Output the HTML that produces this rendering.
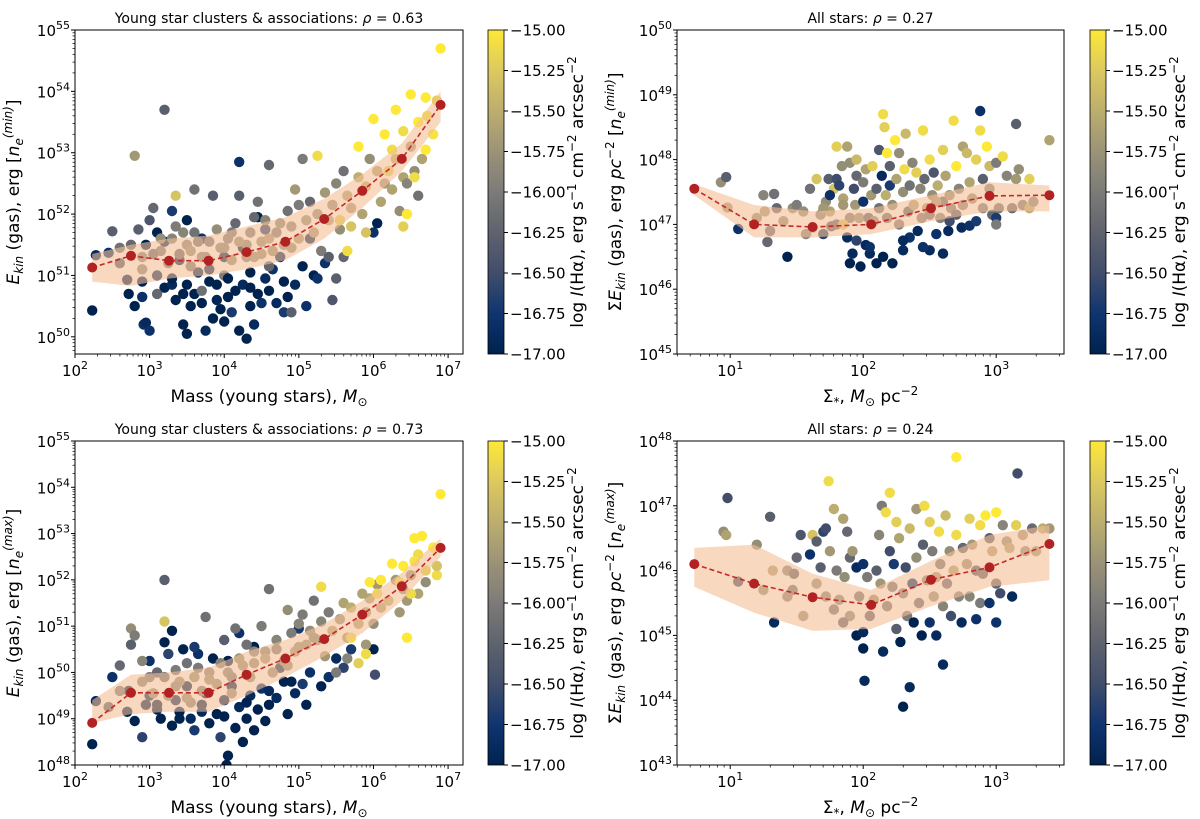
<!DOCTYPE html>
<html><head><meta charset="utf-8"><style>
html,body{margin:0;padding:0;background:#fff;}
svg{display:block;font-family:"DejaVu Sans","Liberation Sans",sans-serif;}
</style></head><body>
<svg id="fig" width="1200" height="819" viewBox="0 0 1200 819"></svg>
<script>
// ---------- DATA ----------
// Panel TL: log Mass, log Ekin (n_e min), log I(Halpha)
const tlX=[2.23,2.28,2.45,2.7,2.72,2.8,2.9,2.92,2.95,2.9,3.1,3.2,3.3,3.35,3.45,3.5,3.55,3.6,3.7,3.75,3.8,3.85,3.9,3.95,4.0,4.05,4.1,4.15,4.2,4.25,4.3,4.35,4.4,4.45,4.5,4.6,4.7,4.8,4.85,5.1,5.2,5.35,3.2,3.5,3.7,4.0,4.25,4.35,4.45,4.65,4.75,5.05,5.25,6.0,6.05,5.15,4.2,3.4,3.65,2.95,3.0,4.95,4.55,3.3,
2.5,2.6,2.8,2.75,2.85,3.0,3.05,3.2,3.15,3.3,3.4,3.5,3.6,3.7,3.8,3.85,3.95,4.05,4.1,4.15,4.2,4.3,4.35,4.4,4.45,4.5,4.55,4.6,4.65,4.7,4.8,4.85,4.9,4.95,5.0,5.05,5.1,5.15,5.2,5.25,5.3,5.35,5.4,5.45,5.5,5.55,5.6,5.65,5.7,5.8,5.85,5.9,5.95,6.05,6.1,6.15,6.25,6.35,6.4,6.5,6.55,6.6,6.65,6.3,6.45,3.6,3.35,2.9,3.55,4.0,4.6,5.4,5.5,5.45,5.6,3.1,3.7,4.9,
3.35,5.25,5.55,5.65,5.8,5.9,6.0,6.15,6.25,6.3,6.4,6.45,6.5,6.55,6.6,6.7,6.72,6.8,6.85,6.9,6.7,6.4,5.7,6.2,
2.6,2.9,3.05,3.15,3.25,3.45,3.55,3.65,3.75,3.9,4.0,4.1,4.2,4.3,4.4,4.5,4.6,4.75,4.9,5.0,3.3,3.5,3.8,4.05,4.35,4.55,4.8,3.1,3.45,3.9];
const tlY=[50.43,51.33,51.37,50.93,50.7,50.5,50.65,50.2,50.23,50.9,51.7,50.8,50.85,50.6,50.2,50.05,50.5,50.7,50.55,50.1,50.9,50.3,50.6,50.45,50.25,50.65,50.4,50.75,50.1,50.85,49.97,50.5,50.2,50.7,50.55,50.75,50.55,50.4,50.65,50.5,51.0,51.2,51.55,51.9,51.6,51.3,51.45,51.05,51.95,51.1,51.3,51.15,50.95,51.7,51.85,51.6,52.85,51.25,51.05,51.5,50.1,50.85,51.75,52.05,
51.72,51.2,52.95,51.5,51.75,51.9,52.1,53.7,51.4,51.6,51.35,51.5,51.7,51.3,51.55,52.3,51.45,51.6,51.25,51.85,52.3,51.5,51.7,51.3,52.2,51.55,51.9,52.8,51.4,51.7,51.5,52.05,51.8,52.4,51.6,52.9,51.9,52.2,51.7,52.0,51.4,52.35,51.9,52.15,52.5,51.75,52.7,52.3,52.1,52.6,52.0,52.45,52.9,52.7,52.2,52.5,52.4,52.05,52.6,53.1,52.7,52.3,52.9,52.9,52.5,52.4,51.8,51.1,51.15,51.0,51.15,51.3,50.95,50.6,51.3,50.7,50.75,50.4,
52.3,52.95,51.9,51.4,53.1,51.7,53.55,53.3,53.05,53.7,53.35,52.0,53.95,52.6,53.5,53.9,53.6,53.3,53.85,54.7,53.05,51.8,51.8,52.7,
51.45,51.3,51.35,51.6,51.2,51.7,51.4,51.55,51.3,51.75,51.45,51.7,51.55,51.3,51.95,51.35,51.6,51.85,51.45,52.15,50.95,50.85,51.1,50.95,50.8,50.95,50.9,51.0,50.7,50.85];
const tlC=[-17,-16.9,-16.8,-17,-17,-17,-16.8,-16.8,-16.9,-17,-17,-17,-16.9,-17,-17,-17,-17,-17,-17,-16.9,-17,-17,-16.95,-17,-17,-17,-16.7,-17,-17,-16.9,-17,-17,-16.9,-17,-16.8,-17,-16.9,-16.7,-17,-16.8,-17,-16.8,-16.9,-17,-16.8,-16.95,-17,-17,-17,-16.8,-16.9,-17,-16.8,-16.8,-17,-16.9,-16.8,-17,-16.9,-17,-16.8,-16.9,-16.7,-16.7,
-16.3,-16.4,-15.7,-16.2,-16.3,-16.4,-16.2,-16.3,-16.0,-15.9,-16.2,-15.9,-16.1,-15.9,-16.1,-16.3,-15.9,-16.0,-15.8,-16.2,-16.3,-15.9,-16.0,-15.8,-16.1,-15.8,-15.9,-16.2,-15.8,-16.0,-15.8,-16.1,-15.9,-15.7,-15.7,-16.0,-15.8,-16.2,-15.7,-15.8,-16.0,-15.7,-15.6,-15.8,-15.9,-15.8,-16.1,-15.6,-15.7,-15.5,-15.6,-15.5,-15.8,-15.6,-15.6,-15.7,-15.6,-15.8,-15.6,-15.7,-15.8,-16.1,-15.6,-15.5,-15.9,-16.1,-16.0,-15.9,-16.0,-16.0,-16.2,-16.3,-16.3,-16.4,-16.2,-16.2,-16.1,-16.3,
-15.3,-15.1,-15.2,-15.1,-15.0,-15.3,-15.0,-15.0,-15.1,-15.0,-15.1,-15.0,-15.0,-15.1,-15.0,-15.0,-15.1,-15.05,-15.2,-15.0,-15.0,-15.2,-15.3,-15.2,
-16.1,-15.9,-16.2,-15.8,-16.0,-15.9,-15.8,-16.1,-15.9,-15.8,-15.9,-16.0,-15.8,-15.9,-16.2,-15.8,-15.7,-15.9,-15.8,-16.0,-17,-17,-16.9,-17,-17,-16.9,-17,-16.9,-17,-17];
const tlBinX=[2.23,2.75,3.26,3.79,4.3,4.82,5.34,5.85,6.38,6.9];
const tlMed=[51.13,51.32,51.24,51.24,51.38,51.55,51.92,52.38,52.9,53.78];
const tlLo=[50.9,50.83,50.95,51.0,51.1,51.25,51.6,52.1,52.7,53.5];
const tlHi=[51.35,51.5,51.6,51.65,51.8,51.95,52.25,52.65,53.15,54.0];

// Panel BL: log Mass, log Ekin (n_e max)
const blX=[2.23,2.28,2.5,2.7,2.72,2.8,2.9,2.95,3.0,3.1,3.15,3.2,3.3,3.35,3.4,3.45,3.5,3.55,3.6,3.7,3.75,3.8,3.85,3.9,3.95,4.0,4.03,4.05,4.1,4.15,4.2,4.25,4.3,4.35,4.4,4.45,4.5,4.55,4.6,4.7,4.8,4.85,4.95,5.05,5.1,5.15,5.3,5.4,5.5,5.7,6.0,3.3,3.65,4.05,4.4,4.75,4.2,5.0,5.6,6.02,3.0,
2.45,2.6,2.75,2.75,2.8,2.9,3.0,3.1,3.2,3.25,3.35,3.4,3.5,3.55,3.6,3.75,3.7,3.8,3.9,4.0,4.05,4.1,4.15,4.2,4.3,4.35,4.4,4.5,4.55,4.6,4.65,4.7,4.8,4.85,4.9,4.95,5.0,5.05,5.1,5.15,5.2,5.25,5.3,5.35,5.4,5.45,5.5,5.55,5.6,5.65,5.7,5.8,5.85,5.9,5.95,6.0,6.05,6.1,6.2,6.3,6.35,6.4,6.45,6.5,6.6,6.7,5.9,5.65,
3.2,5.3,5.7,5.8,5.9,5.95,6.1,6.25,6.35,6.4,6.5,6.55,6.6,6.65,6.7,6.8,6.85,6.9,6.85,6.45,6.55,6.05,
2.6,2.9,3.05,3.2,3.35,3.5,3.65,3.8,3.95,4.1,4.25,4.4,4.55,4.7,4.85,5.0,5.2,3.1,3.4,3.7,4.0,4.3,4.6,4.9,3.25,3.6];
const blY=[48.45,49.38,49.9,49.15,49.6,48.95,48.6,49.3,49.5,49.2,49.0,50.65,48.85,49.4,49.15,50.5,49.7,49.0,48.75,49.3,49.55,48.9,50.3,49.1,48.6,49.4,48.0,48.2,49.7,48.8,49.25,48.5,49.0,49.5,48.75,49.2,49.65,48.95,49.3,49.45,49.8,49.1,49.55,49.75,49.3,50.0,49.7,49.9,50.3,50.5,50.5,50.9,50.4,50.25,50.55,50.1,50.85,50.95,50.1,49.95,50.25,
49.25,50.15,50.6,50.95,50.8,50.25,49.9,50.0,52.0,49.5,50.05,49.8,50.2,49.35,49.9,51.2,49.6,50.0,49.75,50.7,50.0,49.55,50.95,50.3,50.6,49.9,50.2,51.0,50.45,51.8,50.0,50.7,50.25,51.35,50.85,50.45,51.05,51.25,50.6,50.9,51.55,50.7,51.1,50.35,51.3,50.9,50.0,51.15,51.5,50.75,51.4,51.05,51.7,51.3,51.6,51.05,51.9,51.4,51.55,52.0,51.3,51.8,51.55,52.1,51.7,51.95,50.6,50.3,
51.1,51.85,50.75,50.2,50.4,51.95,52.0,52.35,51.95,52.3,51.7,52.9,52.55,52.95,52.2,52.7,52.1,53.85,52.3,50.75,52.4,51.7,
49.6,49.8,49.55,49.9,49.7,49.45,50.1,49.85,50.2,49.9,50.15,50.45,50.3,50.5,50.15,50.55,50.75,49.3,49.0,49.15,49.05,49.35,49.6,49.8,50.4,50.55];
const blC=[-17,-16.9,-16.8,-17,-17,-17,-16.6,-17,-16.9,-17,-17,-17,-17,-16.9,-17,-17,-17,-16.9,-16.7,-17,-17,-17,-17,-17,-16.6,-17,-17,-17,-17,-17,-16.9,-17,-17,-16.9,-17,-17,-16.8,-17,-17,-16.9,-17,-17,-16.9,-16.7,-17,-16.8,-17,-16.8,-16.9,-16.7,-17,-17,-16.8,-17,-17,-16.8,-16.8,-16.7,-16.6,-16.5,-16.8,
-16.3,-16.2,-16.3,-15.8,-16.0,-15.9,-16.0,-16.2,-16.3,-15.9,-16.0,-15.8,-16.1,-15.9,-15.8,-16.1,-16.0,-15.9,-15.8,-16.3,-15.9,-15.8,-16.1,-15.8,-16.1,-15.8,-15.8,-16.0,-15.9,-16.1,-15.8,-15.9,-15.8,-15.8,-16.0,-15.7,-15.9,-16.0,-15.8,-15.8,-16.1,-15.7,-15.9,-15.7,-16.0,-15.6,-16.0,-15.8,-15.6,-15.7,-15.5,-15.6,-15.6,-15.7,-15.6,-15.8,-15.7,-15.6,-15.5,-15.7,-15.7,-15.8,-15.7,-15.8,-15.6,-15.8,-15.7,-15.9,
-15.3,-15.1,-15.1,-15.2,-15.1,-15.0,-15.0,-15.0,-15.1,-15.0,-15.1,-15.0,-15.1,-15.0,-15.2,-15.0,-15.1,-15.0,-15.3,-15.0,-15.05,-15.1,
-16.0,-15.9,-15.8,-16.1,-15.9,-15.8,-16.0,-15.8,-15.9,-16.0,-15.8,-15.9,-15.7,-16.0,-15.8,-15.8,-15.9,-17,-17,-16.9,-17,-17,-16.9,-17,-16.6,-16.7];
const blBinX=[2.23,2.75,3.26,3.79,4.3,4.82,5.34,5.85,6.38,6.9];
const blMed=[48.91,49.56,49.56,49.56,49.95,50.3,50.72,51.25,51.86,52.69];
const blLo=[48.9,49.1,49.15,49.15,49.5,49.9,50.35,50.85,51.55,52.5];
const blHi=[49.4,49.95,50.0,50.1,50.45,50.7,51.05,51.55,52.15,52.9];

// Panel TR: log Sigma*, log sum Ekin (n_e min)
const trX=[0.93,0.97,0.98,1.06,1.2,1.26,1.28,1.3,1.33,1.43,1.47,1.5,1.55,1.6,1.62,1.65,1.68,1.72,1.74,1.75,1.78,1.8,1.8,1.8,1.82,1.84,1.85,1.88,1.9,1.9,1.93,1.94,1.95,1.95,1.97,1.98,2.0,2.0,2.02,2.04,2.05,2.06,2.07,2.08,2.1,2.1,2.12,2.12,2.14,2.15,2.15,2.16,2.17,2.18,2.18,2.2,2.2,2.22,2.22,2.24,2.25,2.27,2.27,2.3,2.3,2.31,2.32,2.34,2.35,2.35,2.37,2.38,2.4,2.41,2.43,2.44,2.45,2.46,2.48,2.5,2.5,2.52,2.53,2.55,2.56,2.58,2.6,2.6,2.62,2.64,2.65,2.66,2.68,2.7,2.72,2.74,2.75,2.75,2.78,2.8,2.8,2.82,2.85,2.85,2.88,2.88,2.9,2.9,2.93,2.95,2.95,2.97,3.0,3.0,3.02,3.05,3.08,3.12,3.15,3.15,3.17,3.2,3.25,3.28,3.0,3.4,3.25,1.25,1.35,1.4,1.57,1.7,1.76,1.85,1.88,1.9,1.92,1.95,2.02,2.05,2.3,2.45,2.6,1.75,1.85,2.5,2.55,2.7,1.7,2.65];
const trY=[47.65,47.73,47.26,46.93,47.1,47.2,46.73,46.9,47.47,46.5,47.25,47.3,47.2,47.55,46.95,47.7,47.15,47.35,47.7,47.2,47.55,47.7,48.2,47.0,47.6,47.9,47.4,48.2,47.1,47.95,47.55,47.3,47.75,48.0,47.1,46.35,47.35,47.65,47.85,47.1,46.55,47.45,47.9,47.05,47.55,46.4,48.15,47.25,47.75,46.5,48.7,48.5,47.45,47.1,48.1,47.9,47.6,47.3,46.4,48.3,47.7,47.0,48.1,47.5,46.6,47.85,48.4,47.2,47.6,46.8,47.95,47.3,47.8,46.9,47.55,47.1,48.45,47.7,47.25,46.6,48.0,47.45,47.8,46.85,47.6,47.1,48.15,47.35,47.75,46.9,47.45,47.25,48.6,47.9,47.55,46.95,48.2,47.3,48.1,46.98,47.65,47.4,48.0,47.05,48.45,48.75,47.7,47.25,48.2,47.9,47.55,47.15,47.95,47.1,47.25,48.05,47.75,47.25,47.7,48.55,47.85,47.3,47.25,47.35,47.0,48.3,47.7,47.45,47.25,47.05,46.85,46.85,46.97,47.0,46.8,46.4,46.55,46.75,46.68,46.65,46.75,46.65,46.55,47.45,47.3,47.15,47.35,47.15,47.25,47.05];
const trC=[-15.8,-16.3,-15.7,-16.8,-15.8,-15.7,-16.2,-16.2,-16.1,-17,-15.8,-16.0,-15.8,-16.1,-15.8,-15.3,-15.9,-15.8,-16.3,-15.6,-15.3,-16.5,-15.2,-16.2,-16.6,-15.8,-15.6,-15.6,-16.0,-15.8,-16.5,-15.7,-16.2,-15.4,-15.8,-17,-16.8,-16.0,-15.6,-16.3,-16.9,-15.7,-15.2,-15.9,-16.3,-17,-16.4,-16.1,-16.9,-17,-15.1,-15.2,-15.5,-16.1,-15.0,-16.3,-16.7,-15.8,-17,-15.0,-15.6,-16.0,-15.8,-15.8,-16.9,-15.1,-15.4,-16.3,-16.1,-16.8,-15.9,-15.6,-15.2,-16.9,-15.9,-16.0,-15.1,-16.2,-15.7,-16.9,-15.1,-15.8,-16.4,-16.8,-15.5,-15.9,-15.2,-16.2,-15.6,-16.9,-15.8,-16.0,-15.1,-15.0,-15.9,-16.9,-15.6,-15.9,-15.4,-16.8,-15.6,-15.8,-15.2,-16.7,-15.1,-16.8,-16.3,-16.0,-15.0,-15.4,-15.9,-16.2,-16.0,-16.7,-16.1,-15.1,-15.9,-16.2,-15.7,-16.3,-15.8,-16.0,-15.5,-15.9,-16.0,-15.6,-15.2,-15.9,-16.2,-15.8,-15.9,-16.6,-16.3,-15.3,-16.9,-17,-16.9,-16.6,-16.9,-16.8,-16.9,-16.8,-16.9,-16.8,-15.7,-16.1,-15.7,-16.3,-15.7,-16.5];
const trBinX=[0.73,1.18,1.62,2.06,2.51,2.95,3.4];
const trMed=[47.55,47.0,46.96,47.0,47.25,47.44,47.45];
const trLo=[47.45,46.8,46.8,46.85,47.05,47.2,47.2];
const trHi=[47.62,47.3,47.2,47.25,47.45,47.65,47.6];

// Panel BR: log Sigma*, log sum Ekin (n_e max)
const brX=[0.95,0.97,0.98,1.06,1.3,1.32,1.2,1.25,1.33,1.43,1.47,1.5,1.53,1.55,1.6,1.62,1.65,1.68,1.7,1.72,1.74,1.75,1.78,1.8,1.82,1.85,1.86,1.88,1.9,1.9,1.92,1.95,1.95,1.97,2.0,2.0,2.01,2.03,2.05,2.08,2.1,2.12,2.13,2.14,2.15,2.17,2.18,2.2,2.2,2.22,2.23,2.25,2.25,2.27,2.28,2.3,2.3,2.32,2.33,2.35,2.35,2.37,2.38,2.4,2.4,2.42,2.44,2.45,2.46,2.48,2.5,2.5,2.52,2.53,2.55,2.55,2.57,2.58,2.6,2.6,2.62,2.63,2.65,2.66,2.68,2.7,2.7,2.72,2.74,2.75,2.78,2.8,2.8,2.82,2.85,2.88,2.88,2.9,2.92,2.95,2.97,3.0,3.0,3.03,3.05,3.08,3.1,3.12,3.15,3.16,3.2,3.22,3.27,3.3,3.35,1.43,1.48,1.65,1.72,1.78,1.85,2.95,3.0,2.85,3.4,2.0];
const brY=[46.6,46.55,47.12,45.83,46.83,46.0,46.4,45.7,45.2,46.0,45.7,46.2,46.55,45.3,46.25,46.55,46.45,46.05,46.6,46.65,47.38,46.3,46.95,46.0,45.55,46.8,45.9,46.6,46.2,45.3,46.3,46.05,45.0,45.6,46.1,44.8,44.3,45.9,45.3,45.55,46.0,46.55,45.8,47.0,44.75,46.9,45.45,46.3,47.2,45.75,46.1,45.1,46.75,46.5,44.9,45.65,43.9,46.05,45.3,46.65,44.2,45.8,45.2,46.95,46.2,45.5,45.0,46.4,47.0,45.85,45.2,46.75,46.3,45.6,45.9,45.0,46.6,46.1,45.45,44.55,46.85,45.8,46.3,45.3,46.0,47.75,46.55,45.6,45.2,46.35,46.1,46.8,45.6,46.4,46.0,45.5,46.7,45.95,46.85,46.5,46.3,46.9,45.8,45.65,46.7,46.45,46.35,45.6,46.7,47.5,46.55,46.3,46.65,46.3,46.65,45.6,45.95,45.8,45.6,45.4,45.2,45.5,45.2,45.25,46.65,45.05];
const brC=[-15.8,-15.6,-16.5,-16.5,-16.3,-15.6,-15.8,-15.8,-16.9,-15.9,-16.1,-16.2,-16.4,-15.8,-16.8,-15.3,-16.3,-16.3,-16.6,-16.5,-15.1,-15.7,-15.5,-16.0,-15.9,-15.6,-15.8,-16.2,-16.2,-15.9,-15.7,-16.9,-17,-16.1,-16.8,-17,-16.9,-16.0,-16.3,-15.8,-16.3,-15.9,-15.7,-16.0,-16.9,-15.1,-16.1,-16.5,-15.1,-16.1,-16.7,-16.3,-15.2,-15.6,-17,-16.0,-17,-16.5,-16.0,-15.4,-16.9,-16.8,-17,-15.7,-15.8,-16.2,-17,-16.3,-15.1,-15.9,-16.8,-15.2,-16.0,-15.8,-15.7,-16.9,-15.1,-16.1,-15.9,-16.9,-15.4,-16.2,-15.8,-16.5,-15.6,-15.0,-15.1,-15.9,-16.9,-16.2,-15.8,-15.2,-15.9,-15.7,-16.4,-16.0,-15.1,-16.3,-15.0,-16.3,-15.6,-15.0,-16.2,-16.5,-15.9,-15.8,-15.6,-16.9,-15.2,-16.5,-15.7,-15.8,-16.2,-15.7,-15.5,-15.9,-16.3,-15.8,-15.9,-16.1,-16.3,-16.8,-16.8,-16.8,-15.7,-16.9];
const brBinX=[0.73,1.18,1.62,2.06,2.51,2.95,3.4];
const brMed=[46.1,45.8,45.59,45.47,45.86,46.05,46.41];
const brLo=[45.75,45.35,45.07,45.1,45.45,45.75,45.85];
const brHi=[46.35,46.4,45.95,45.7,46.15,46.55,46.7];

const cbTicks=[-15.0,-15.25,-15.5,-15.75,-16.0,-16.25,-16.5,-16.75,-17.0];

// ---------- DRAWING ----------
const NS="http://www.w3.org/2000/svg";
const svg=document.getElementById('fig');
function mk(tag,attrs,parent){const e=document.createElementNS(NS,tag);for(const k in attrs)e.setAttribute(k,attrs[k]);(parent||svg).appendChild(e);return e;}
const stops=[[0,'#00224e'],[0.125,'#0f3570'],[0.25,'#414d6b'],[0.375,'#5f636e'],[0.5,'#7c7b78'],[0.625,'#9b9377'],[0.75,'#bcae6e'],[0.875,'#dcc95f'],[1,'#fee838']];
function hex(h){return [parseInt(h.slice(1,3),16),parseInt(h.slice(3,5),16),parseInt(h.slice(5,7),16)];}
function cmap(v){let t=(v+17)/2;t=Math.max(0,Math.min(1,t));for(let i=1;i<stops.length;i++){if(t<=stops[i][0]){const a=stops[i-1],b=stops[i];const f=(t-a[0])/(b[0]-a[0]);const ca=hex(a[1]),cb=hex(b[1]);return 'rgb('+ca.map((c,j)=>Math.round(c+(cb[j]-c)*f)).join(',')+')';}}return stops[stops.length-1][1];}

const defs=mk('defs',{});
const lg=mk('linearGradient',{id:'cividis',x1:0,y1:1,x2:0,y2:0},defs);
stops.forEach(s=>mk('stop',{offset:s[0],'stop-color':s[1]},lg));

function addParts(t,parts){
  let shift=0;
  parts.forEach(p=>{const s=mk('tspan',{},t);s.textContent=p[0];
    let target=0;if(p[1]==='sup'||p[1]==='supi')target=-7;if(p[1]==='sub'||p[1]==='subi')target=4;
    if(p[1]==='i'||p[1]==='subi'||p[1]==='supi')s.setAttribute('font-style','italic');
    if(target!==shift){s.setAttribute('dy',target-shift);shift=target;}
    if(target!==0)s.setAttribute('font-size',12);
  });
}

function panel(name,box,xr,yr,xs,ys,cs,binX,med,lo,hi,xMajors,yMajors,title,ylabelParts,xlabelParts,cbX){
  const g=mk('g',{});
  
  
  const [L,T,R,B]=box;
  const sx=v=>L+(v-xr[0])/(xr[1]-xr[0])*(R-L);
  const sy=v=>B-(v-yr[0])/(yr[1]-yr[0])*(B-T);
  const cp='clip-'+name;
  const cpe=mk('clipPath',{id:cp},defs);mk('rect',{x:L,y:T,width:R-L,height:B-T},cpe);
  const pg=mk('g',{'clip-path':'url(#'+cp+')'},g);
  const sg=mk('g',{},pg);
  
  
  for(let i=0;i<xs.length;i++){
    const c=mk('circle',{cx:sx(xs[i]).toFixed(1),cy:sy(ys[i]).toFixed(1),r:5.2,fill:cmap(cs[i])},sg);
    
    
  }
  let d='M'+binX.map((x,i)=>sx(x).toFixed(1)+','+sy(hi[i]).toFixed(1)).join('L');
  for(let i=binX.length-1;i>=0;i--)d+='L'+sx(binX[i]).toFixed(1)+','+sy(lo[i]).toFixed(1);
  const band=mk('path',{d:d+'Z',fill:'rgb(245,190,150)','fill-opacity':0.6},pg);
  
  
  const line=mk('polyline',{points:binX.map((x,i)=>sx(x).toFixed(1)+','+sy(med[i]).toFixed(1)).join(' '),fill:'none',stroke:'#c62828','stroke-width':1.6,'stroke-dasharray':'5,3'},pg);
  
  
  for(let i=0;i<binX.length;i++){
    const m=mk('circle',{cx:sx(binX[i]).toFixed(1),cy:sy(med[i]).toFixed(1),r:5,fill:'#b22222'},pg);
    
    
  }
  const fr=mk('rect',{x:L,y:T,width:R-L,height:B-T,fill:'none',stroke:'#000','stroke-width':1},g);
  
  
  const xa=mk('g',{},g);
  
  
  for(let d0=Math.floor(xr[0]);d0<=Math.ceil(xr[1]);d0++){
    for(let k=1;k<10;k++){const v=d0+Math.log10(k);if(v<xr[0]-1e-6||v>xr[1]+1e-6)continue;const X=sx(v);
      mk('line',{x1:X,x2:X,y1:B,y2:B+(k===1?4:2.5),stroke:'#000','stroke-width':k===1?1:0.7},xa);}
  }
  xMajors.forEach(e=>{const t=mk('text',{x:sx(e),y:B+22,'font-size':15,'text-anchor':'middle'},xa);
    
    
    const a=mk('tspan',{},t);a.textContent='10';const b=mk('tspan',{dy:-7,'font-size':11},t);b.textContent=String(e);});
  const ya=mk('g',{},g);
  
  
  for(let d0=Math.floor(yr[0]);d0<=Math.ceil(yr[1]);d0++){
    for(let k=1;k<10;k++){const v=d0+Math.log10(k);if(v<yr[0]-1e-6||v>yr[1]+1e-6)continue;const Y=sy(v);
      mk('line',{x1:L,x2:L-(k===1?4:2.5),y1:Y,y2:Y,stroke:'#000','stroke-width':k===1?1:0.7},ya);}
  }
  yMajors.forEach(e=>{const t=mk('text',{x:L-5,y:sy(e)+6,'font-size':15,'text-anchor':'end'},ya);
    
    
    const a=mk('tspan',{},t);a.textContent='10';const b=mk('tspan',{dy:-7,'font-size':11},t);b.textContent=String(e);});
  const tt=mk('text',{x:(L+R)/2,y:T-7,'font-size':14,'text-anchor':'middle'},g);
  
  
  title(tt);
  const xl=mk('text',{x:(L+R)/2,y:B+48,'font-size':17,'text-anchor':'middle'},g);
  
  
  xlabelParts(xl);
  const yl=mk('text',{x:0,y:0,'font-size':17,'text-anchor':'middle',transform:'translate('+(L-56)+','+((T+B)/2)+') rotate(-90)'},g);
  
  
  ylabelParts(yl);
  const cb=mk('g',{},g);
  
  
  mk('rect',{x:cbX,y:T,width:16,height:B-T,fill:'url(#cividis)',stroke:'#000','stroke-width':0.8},cb);
  cbTicks.forEach(v=>{const Y=T+(-15-v)/2*(B-T);mk('line',{x1:cbX+16,x2:cbX+20,y1:Y,y2:Y,stroke:'#000'},cb);
    const t=mk('text',{x:cbX+22,y:Y+5.5,'font-size':15},cb);t.textContent='\u2212'+Math.abs(v).toFixed(2);
    
    });
  const cl=mk('text',{x:0,y:0,'font-size':17,'text-anchor':'middle',transform:'translate('+(cbX+95)+','+((T+B)/2)+') rotate(-90)'},cb);
  
  
  addParts(cl,[['log ',''],['I','i'],['(H\u03b1), erg s',''],['\u22121','sup'],[' cm',''],['\u22122','sup'],[' arcsec',''],['\u22122','sup']]);
}
const ttl1=t=>addParts(t,[['Young star clusters & associations: ',''],['\u03c1','i'],[' = 0.63','']]);
const ttl2=t=>addParts(t,[['All stars: ',''],['\u03c1','i'],[' = 0.27','']]);
const ttl3=t=>addParts(t,[['Young star clusters & associations: ',''],['\u03c1','i'],[' = 0.73','']]);
const ttl4=t=>addParts(t,[['All stars: ',''],['\u03c1','i'],[' = 0.24','']]);
const xlM=t=>addParts(t,[['Mass (young stars), ',''],['M','i'],['\u2299','sub']]);
const xlS=t=>addParts(t,[['\u03a3',''],['*','sub'],[', ',''],['M','i'],['\u2299','sub'],[' pc',''],['\u22122','sup']]);
const ylTL=t=>addParts(t,[['E','i'],['kin','subi'],[' (gas), erg  [',''],['n','i'],['e','subi'],['(min)','supi'],[']','']]);
const ylBL=t=>addParts(t,[['E','i'],['kin','subi'],[' (gas), erg  [',''],['n','i'],['e','subi'],['(max)','supi'],[']','']]);
const ylTR=t=>addParts(t,[['\u03a3',''],['E','i'],['kin','subi'],[' (gas), erg ',''],['pc','i'],['\u22122','sup'],[' [',''],['n','i'],['e','subi'],['(min)','supi'],[']','']]);
const ylBR=t=>addParts(t,[['\u03a3',''],['E','i'],['kin','subi'],[' (gas), erg ',''],['pc','i'],['\u22122','sup'],[' [',''],['n','i'],['e','subi'],['(max)','supi'],[']','']]);

panel('panel-top-left',[75,30,463,354],[2,7.2],[49.72,55],tlX,tlY,tlC,tlBinX,tlMed,tlLo,tlHi,[2,3,4,5,6,7],[50,51,52,53,54,55],ttl1,ylTL,xlM,488);
panel('panel-top-right',[677,30,1064,354],[0.6,3.51],[45,50],trX,trY,trC,trBinX,trMed,trLo,trHi,[1,2,3],[45,46,47,48,49,50],ttl2,ylTR,xlS,1090);
panel('panel-bottom-left',[75,441,463,765],[2,7.2],[48,55],blX,blY,blC,blBinX,blMed,blLo,blHi,[2,3,4,5,6,7],[48,49,50,51,52,53,54,55],ttl3,ylBL,xlM,488);
panel('panel-bottom-right',[677,441,1064,765],[0.6,3.51],[43,48],brX,brY,brC,brBinX,brMed,brLo,brHi,[1,2,3],[43,44,45,46,47,48],ttl4,ylBR,xlS,1090);
</script>
</body></html>
